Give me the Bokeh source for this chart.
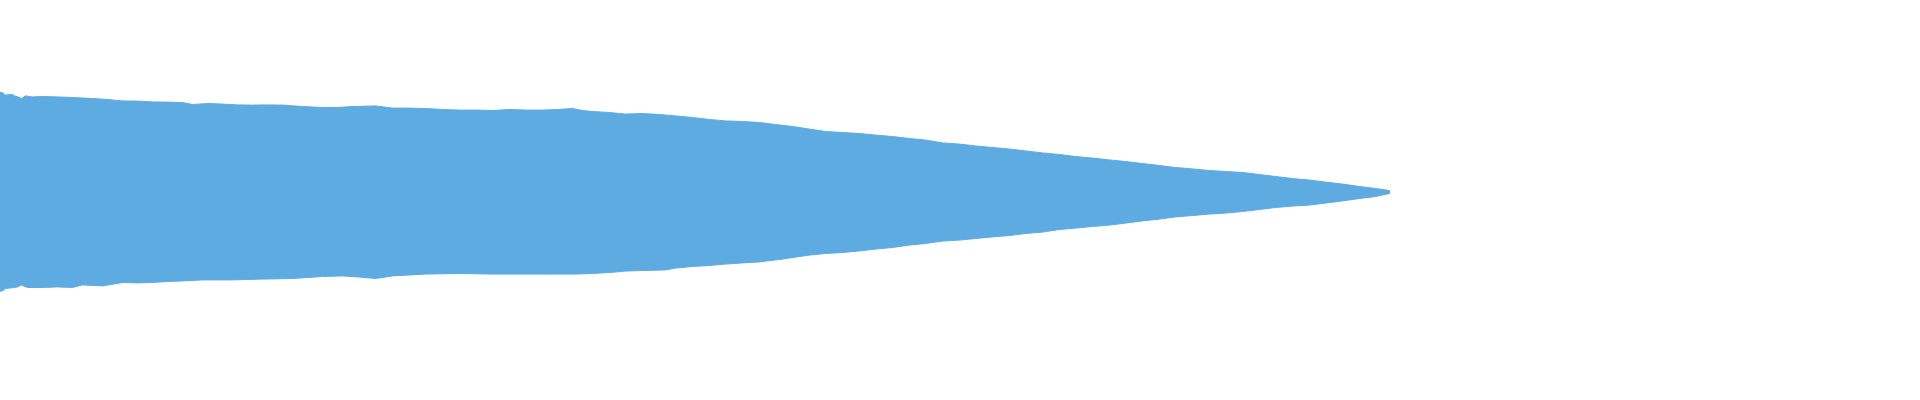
import numpy as np
from bokeh.plotting import figure
from bokeh.models import Range1d
from bokeh.embed import file_html
from bokeh.resources import INLINE

# Envelope of the waveform: positions (sample index) and amplitudes (full scale = 1)
top_pos = [0, 1, 3, 4, 5, 11, 12, 20, 22, 26, 29, 33, 40, 50, 65, 80, 100, 115, 130, 145,
           160, 175, 190, 200, 215, 230, 245, 260, 275, 290, 310, 330, 345, 360, 383, 400,
           415, 433, 450, 467, 485, 500, 517, 535, 550, 565, 580, 590, 600, 617, 633, 650,
           667, 683, 700, 717, 733, 750, 767, 783, 800, 817, 833, 850, 867, 883, 900, 917,
           933, 950, 967, 983, 1000, 1017, 1033, 1050, 1067, 1083, 1100, 1117, 1133, 1150,
           1167, 1183, 1200, 1217, 1233, 1250, 1267, 1283, 1300, 1317, 1333, 1350, 1367,
           1383, 1397]
top_amp = [0.547, 0.538, 0.533, 0.520, 0.503, 0.497, 0.487, 0.490, 0.483, 0.477, 0.470,
           0.483, 0.478, 0.480, 0.478, 0.475, 0.470, 0.465, 0.458, 0.457, 0.453, 0.452,
           0.450, 0.440, 0.445, 0.442, 0.438, 0.437, 0.438, 0.437, 0.430, 0.425, 0.425,
           0.430, 0.433, 0.422, 0.422, 0.420, 0.415, 0.412, 0.412, 0.410, 0.415, 0.412,
           0.412, 0.415, 0.420, 0.410, 0.405, 0.400, 0.392, 0.395, 0.390, 0.383, 0.375,
           0.365, 0.358, 0.355, 0.350, 0.340, 0.330, 0.317, 0.305, 0.300, 0.295, 0.287,
           0.280, 0.270, 0.262, 0.248, 0.242, 0.233, 0.225, 0.217, 0.208, 0.198, 0.190,
           0.180, 0.172, 0.163, 0.155, 0.145, 0.135, 0.125, 0.118, 0.110, 0.105, 0.100,
           0.090, 0.080, 0.070, 0.062, 0.052, 0.042, 0.030, 0.020, 0.010]

bot_pos = [0, 1, 2, 3, 4, 5, 11, 12, 13, 22, 25, 29, 31, 35, 50, 65, 80, 90, 110, 130, 145,
           160, 175, 190, 210, 240, 270, 300, 330, 350, 367, 383, 400, 433, 467, 500, 533,
           560, 583, 600, 617, 633, 650, 673, 683, 700, 717, 733, 750, 767, 790, 800, 817,
           833, 850, 867, 883, 900, 917, 933, 950, 967, 983, 1000, 1017, 1033, 1050, 1067,
           1083, 1100, 1117, 1133, 1150, 1167, 1183, 1200, 1217, 1233, 1250, 1267, 1283,
           1300, 1317, 1333, 1350, 1367, 1383, 1397]
bot_amp = [-0.545, -0.533, -0.540, -0.517, -0.508, -0.497, -0.490, -0.483, -0.480, -0.475,
           -0.472, -0.462, -0.467, -0.475, -0.475, -0.472, -0.475, -0.462, -0.467, -0.450,
           -0.452, -0.450, -0.445, -0.442, -0.437, -0.437, -0.433, -0.430, -0.420, -0.417,
           -0.423, -0.430, -0.417, -0.408, -0.405, -0.408, -0.408, -0.408, -0.408, -0.405,
           -0.400, -0.393, -0.390, -0.387, -0.378, -0.370, -0.365, -0.358, -0.352, -0.347,
           -0.333, -0.325, -0.313, -0.305, -0.300, -0.292, -0.283, -0.275, -0.263, -0.255,
           -0.243, -0.238, -0.230, -0.222, -0.215, -0.205, -0.198, -0.185, -0.178, -0.170,
           -0.163, -0.153, -0.142, -0.133, -0.122, -0.115, -0.108, -0.103, -0.095, -0.085,
           -0.075, -0.068, -0.063, -0.053, -0.042, -0.030, -0.020, -0.005]

WAVE_COLOR = "#5DABE1"

p = figure(width=1920, height=400, output_backend="svg", toolbar_location=None,
           x_range=Range1d(0, 1920), y_range=Range1d(-1, 1),
           min_border=0, min_border_left=0, min_border_right=0,
           min_border_top=0, min_border_bottom=0,
           margin=(-8, 0, 0, -8))
p.axis.visible = False
p.grid.visible = False
p.outline_line_color = None
p.background_fill_color = "white"
p.border_fill_color = "white"

xs = np.concatenate([np.array(top_pos, dtype=float), np.array(bot_pos[::-1], dtype=float)])
ys = np.concatenate([np.array(top_amp), np.array(bot_amp[::-1])])
p.patch(xs, ys, fill_color=WAVE_COLOR, line_color=WAVE_COLOR, line_width=1)

open("out.html", "w").write(file_html(p, INLINE))
